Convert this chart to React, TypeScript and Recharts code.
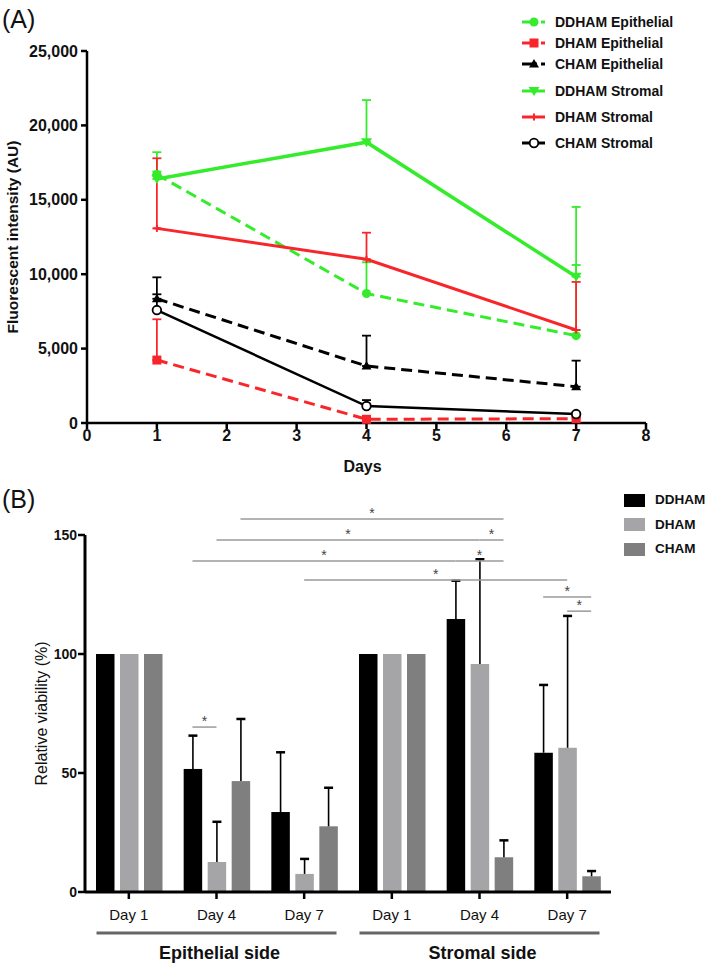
import React from 'react';
import {
  LineChart, Line, XAxis, YAxis, ErrorBar, Legend,
  BarChart, Bar, ReferenceLine, ReferenceDot,
} from 'recharts';

const FONT = "'Liberation Sans', Arial, Helvetica, sans-serif";

// ---------------- Panel A data ----------------
const days = [1, 4, 7];
const ddhamEpithelial = [16700, 8700, 5870];
const ddhamEpithelialErr = [1500, 2100, 4750];
const dhamEpithelial = [4230, 250, 290];
const dhamEpithelialErr = [2740, 150, 100];
const chamEpithelial = [8350, 3830, 2440];
const chamEpithelialErr = [1440, 2040, 1750];
const ddhamStromal = [16400, 18870, 9830];
const ddhamStromalErr = [500, 2830, 4690];
const dhamStromal = [13080, 11000, 6250];
const dhamStromalErr = [4710, 1790, 3230];
const chamStromal = [7590, 1140, 600];
const chamStromalErr = [1060, 400, 100];
const yTicksA = [0, 5000, 10000, 15000, 20000, 25000];
const xTicksA = [0, 1, 2, 3, 4, 5, 6, 7, 8];

const GREEN = '#35ec2c';
const RED = '#f8262b';
const BLACK = '#000000';

type Marker = 'circle' | 'square' | 'triangle' | 'invTriangle' | 'plus' | 'openCircle';
const seriesA: { key: string; name: string; values: number[]; errs: number[]; color: string; dashed: boolean; marker: Marker; width: number }[] = [
  { key: 'ddhamEpi', name: 'DDHAM Epithelial', values: ddhamEpithelial, errs: ddhamEpithelialErr, color: GREEN, dashed: true, marker: 'circle', width: 3 },
  { key: 'dhamEpi', name: 'DHAM Epithelial', values: dhamEpithelial, errs: dhamEpithelialErr, color: RED, dashed: true, marker: 'square', width: 3 },
  { key: 'chamEpi', name: 'CHAM Epithelial', values: chamEpithelial, errs: chamEpithelialErr, color: BLACK, dashed: true, marker: 'triangle', width: 3 },
  { key: 'ddhamStr', name: 'DDHAM Stromal', values: ddhamStromal, errs: ddhamStromalErr, color: GREEN, dashed: false, marker: 'invTriangle', width: 3.5 },
  { key: 'dhamStr', name: 'DHAM Stromal', values: dhamStromal, errs: dhamStromalErr, color: RED, dashed: false, marker: 'plus', width: 3 },
  { key: 'chamStr', name: 'CHAM Stromal', values: chamStromal, errs: chamStromalErr, color: BLACK, dashed: false, marker: 'openCircle', width: 2.5 },
];
const legendRowsA = [22, 43, 64, 91, 117, 143];

const dataA = days.map((d, i) => {
  const row: any = { day: d };
  seriesA.forEach((s) => {
    row[s.key] = s.values[i];
    row[s.key + 'Err'] = [0, s.errs[i]];
  });
  return row;
});

// ---------------- Panel B data ----------------
const dayLabels = ['Day 1', 'Day 4', 'Day 7', 'Day 1', 'Day 4', 'Day 7'];
const sides = ['Epithelial side', 'Stromal side'];
const ddhamViability = [100, 51.7, 33.6, 100, 114.7, 58.5];
const ddhamViabilityErr = [0, 14, 25.1, 0, 16.1, 28.5];
const dhamViability = [100, 12.6, 7.6, 100, 95.8, 60.6];
const dhamViabilityErr = [0, 16.9, 6.3, 0, 44, 55.4];
const chamViability = [100, 46.6, 27.6, 100, 14.6, 6.6];
const chamViabilityErr = [0, 26.1, 16.2, 0, 7.1, 2.2];
const yTicksB = [0, 50, 100, 150];

const seriesB = [
  { key: 'ddham', name: 'DDHAM', values: ddhamViability, errs: ddhamViabilityErr, color: '#000000' },
  { key: 'dham', name: 'DHAM', values: dhamViability, errs: dhamViabilityErr, color: '#a5a5a8' },
  { key: 'cham', name: 'CHAM', values: chamViability, errs: chamViabilityErr, color: '#7f7f7f' },
];

const dataB = dayLabels.map((label, i) => {
  const row: any = { label, pos: i + 0.5 };
  seriesB.forEach((s) => {
    row[s.key] = s.values[i];
    row[s.key + 'Err'] = s.errs[i];
  });
  return row;
});

// significance brackets: [category index, bar index] -> [category index, bar index], at level y
const sigLines = [
  { from: [1, 2], to: [4, 2], y: 156.7 },
  { from: [1, 1], to: [4, 1], y: 147.9 },
  { from: [4, 1], to: [4, 2], y: 147.9 },
  { from: [1, 0], to: [4, 0], y: 139.1 },
  { from: [4, 0], to: [4, 2], y: 139.1 },
  { from: [2, 1], to: [5, 1], y: 131.1 },
  { from: [5, 0], to: [5, 2], y: 124 },
  { from: [5, 1], to: [5, 2], y: 118 },
  { from: [1, 0], to: [1, 1], y: 69.3 },
];

// ---------------- layout constants ----------------
const W = 709;
const HA = 480;
const HB = 486;
const B_LEFT = 85;
const B_RIGHT = 611;
const BAR_SIZE = 18.5;
const BAR_GAP = 5.5;
const BAND = (B_RIGHT - B_LEFT) / dayLabels.length;
const BAR_STEP = (BAR_SIZE + BAR_GAP) / BAND;
const barPos = (c: number, b: number) => c + 0.5 + (b - 1) * BAR_STEP;

// ---------------- markers ----------------
function MarkerShape({ kind, cx, cy, color }: { kind: Marker; cx: number; cy: number; color: string }) {
  switch (kind) {
    case 'circle':
      return <circle cx={cx} cy={cy} r={4.5} fill={color} />;
    case 'square':
      return <rect x={cx - 4.5} y={cy - 4.5} width={9} height={9} fill={color} />;
    case 'triangle':
      return <polygon points={`${cx},${cy - 5} ${cx - 5},${cy + 3.5} ${cx + 5},${cy + 3.5}`} fill={color} />;
    case 'invTriangle':
      return <polygon points={`${cx - 5.5},${cy - 4} ${cx + 5.5},${cy - 4} ${cx},${cy + 5}`} fill={color} />;
    case 'plus':
      return (
        <g>
          <line x1={cx - 3.5} x2={cx + 3.5} y1={cy} y2={cy} stroke={color} strokeWidth={2} />
          <line x1={cx} x2={cx} y1={cy - 3.5} y2={cy + 3.5} stroke={color} strokeWidth={2} />
        </g>
      );
    case 'openCircle':
      return <circle cx={cx} cy={cy} r={4.3} fill="#fff" stroke={color} strokeWidth={1.8} />;
  }
  return null;
}

const makeDot = (kind: Marker, color: string, key: string) => (props: any) => {
  const { cx, cy, index } = props;
  if (cx == null || cy == null) return <g key={`${key}-${index}`} />;
  return (
    <g key={`${key}-${index}`}>
      <MarkerShape kind={kind} cx={cx} cy={cy} color={color} />
    </g>
  );
};

function LegendA() {
  return (
    <div style={{ position: 'relative', width: 194, height: 160, fontFamily: FONT }}>
      {seriesA.map((s, i) => (
        <div
          key={s.key}
          style={{ position: 'absolute', left: 0, top: legendRowsA[i] - 8, height: 16, display: 'flex', alignItems: 'center' }}
        >
          <svg width={26} height={14} style={{ display: 'block' }}>
            {s.dashed ? (
              <g>
                <line x1={0} x2={15} y1={7} y2={7} stroke={s.color} strokeWidth={3} />
                <line x1={19} x2={23} y1={7} y2={7} stroke={s.color} strokeWidth={3} />
              </g>
            ) : (
              <line x1={0} x2={23} y1={7} y2={7} stroke={s.color} strokeWidth={3} />
            )}
            <MarkerShape kind={s.marker} cx={12} cy={7} color={s.color} />
          </svg>
          <span style={{ marginLeft: 7, fontSize: 14, fontWeight: 700, color: '#111', whiteSpace: 'nowrap', lineHeight: '16px' }}>
            {s.name}
          </span>
        </div>
      ))}
    </div>
  );
}

function LegendB() {
  return (
    <div style={{ position: 'relative', width: 90, height: 80, fontFamily: FONT }}>
      {seriesB.map((s, i) => (
        <div key={s.key} style={{ position: 'absolute', left: 0, top: 12 + i * 24.5, height: 16, display: 'flex', alignItems: 'center' }}>
          <div style={{ width: 21, height: 13, background: s.color }} />
          <span style={{ marginLeft: 10, fontSize: 13.5, fontWeight: 700, color: '#111', lineHeight: '16px' }}>{s.name}</span>
        </div>
      ))}
    </div>
  );
}

const makeBarShape = (key: string) => (props: any) => {
  const { x, y, width, height, payload, fill } = props;
  const v = payload[key];
  const e = payload[key + 'Err'];
  const elems: any[] = [<rect key="r" x={x} y={y} width={width} height={height} fill={fill} />];
  if (e && v) {
    const base = y + height;
    const ppu = height / v;
    const top = base - (v + e) * ppu;
    const cx = x + width / 2;
    elems.push(<line key="l" x1={cx} x2={cx} y1={y} y2={top} stroke="#000" strokeWidth={1.6} />);
    elems.push(<line key="c" x1={cx - 4.5} x2={cx + 4.5} y1={top} y2={top} stroke="#000" strokeWidth={2.5} />);
  }
  return <g>{elems}</g>;
};

const tickA = { fill: '#111', fontSize: 16, fontWeight: 700, fontFamily: FONT };
const tickBY = { fill: '#111', fontSize: 14, fontWeight: 700, fontFamily: FONT };
const tickBX = { fill: '#111', fontSize: 15, fontFamily: FONT };

export default function App() {
  return (
    <div style={{ position: 'absolute', left: 0, top: 0, width: W, height: HA + HB, background: '#fff', fontFamily: FONT }}>
      {/* Panel A */}
      <div style={{ position: 'absolute', left: 0, top: 0, width: W, height: HA }}>
        <LineChart width={W} height={HA} data={dataA} margin={{ top: 51, right: 63, bottom: 0, left: 0 }}>
          <XAxis
            dataKey="day"
            type="number"
            domain={[0, 8]}
            ticks={xTicksA}
            interval={0}
            height={57}
            tick={tickA}
            tickSize={6}
            tickMargin={1}
            axisLine={{ stroke: '#000', strokeWidth: 2.5 }}
            tickLine={{ stroke: '#000', strokeWidth: 2.5 }}
            label={(p: any) => {
              const vb = p.viewBox;
              return (
                <text x={vb.x + vb.width / 2 - 4} y={vb.y + 43} textAnchor="middle" dominantBaseline="central" fontSize={16} fontWeight={700} fill="#111" fontFamily={FONT}>
                  Days
                </text>
              );
            }}
          />
          <YAxis
            type="number"
            domain={[0, 25000]}
            ticks={yTicksA}
            width={87}
            tick={tickA}
            tickSize={6}
            tickMargin={3}
            tickFormatter={(v: number) => v.toLocaleString('en-US')}
            axisLine={{ stroke: '#000', strokeWidth: 2.5 }}
            tickLine={{ stroke: '#000', strokeWidth: 2.5 }}
            label={(p: any) => {
              const vb = p.viewBox;
              const cy = vb.y + vb.height / 2;
              return (
                <text x={12} y={cy} transform={`rotate(-90, 12, ${cy})`} textAnchor="middle" dominantBaseline="central" fontSize={15.5} fontWeight={700} fill="#111" fontFamily={FONT}>
                  Fluorescent intensity (AU)
                </text>
              );
            }}
          />
          <Legend
            layout="vertical"
            align="center"
            verticalAlign="middle"
            wrapperStyle={{ left: 522, top: 0, width: 194, height: 160 }}
            content={() => <LegendA />}
          />
          {seriesA.map((s) => (
            <Line
              key={s.key}
              dataKey={s.key}
              name={s.name}
              type="linear"
              stroke={s.color}
              strokeWidth={s.width}
              strokeDasharray={s.dashed ? '11 6' : undefined}
              dot={makeDot(s.marker, s.color, s.key)}
              activeDot={false}
              isAnimationActive={false}
            >
              <ErrorBar dataKey={s.key + 'Err'} width={4.5} stroke={s.color} strokeWidth={1.8} direction="y" />
            </Line>
          ))}
        </LineChart>
        <div style={{ position: 'absolute', left: 2, top: 3, fontSize: 25, fontFamily: FONT, color: '#111', lineHeight: '32px' }}>(A)</div>
      </div>

      {/* Panel B */}
      <div style={{ position: 'absolute', left: 0, top: HA, width: W, height: HB }}>
        <BarChart
          width={W}
          height={HB}
          data={dataB}
          margin={{ top: 55, right: W - B_RIGHT, bottom: 0, left: 0 }}
          barSize={BAR_SIZE}
          barGap={BAR_GAP}
        >
          <XAxis
            dataKey="label"
            height={36}
            interval={0}
            tick={tickBX}
            tickSize={7}
            tickMargin={10}
            axisLine={{ stroke: '#000', strokeWidth: 3 }}
            tickLine={{ stroke: '#000', strokeWidth: 2.5 }}
          />
          <XAxis
            xAxisId="side"
            dataKey="pos"
            type="number"
            domain={[0, dayLabels.length]}
            allowDataOverflow
            ticks={[1.5, 4.5]}
            interval={0}
            height={38}
            axisLine={false}
            tickLine={false}
            tickSize={0}
            tickMargin={0}
            tick={(p: any) => {
              const idx = Math.floor(p.payload.value / 3);
              return (
                <g>
                  <line x1={p.x - 120} x2={p.x + 120} y1={p.y + 5} y2={p.y + 5} stroke="#666" strokeWidth={3} />
                  <text x={p.x + 3} y={p.y + 25} textAnchor="middle" dominantBaseline="central" fontSize={18} fontWeight={700} fill="#111" fontFamily={FONT}>
                    {sides[idx]}
                  </text>
                </g>
              );
            }}
          />
          <XAxis xAxisId="num" dataKey="pos" type="number" domain={[0, dayLabels.length]} allowDataOverflow hide height={0} />
          <YAxis
            type="number"
            domain={[0, 150]}
            ticks={yTicksB}
            width={B_LEFT}
            tick={tickBY}
            tickSize={7}
            tickMargin={1}
            axisLine={{ stroke: '#000', strokeWidth: 3 }}
            tickLine={{ stroke: '#000', strokeWidth: 2.5 }}
            label={(p: any) => {
              const vb = p.viewBox;
              const cy = vb.y + vb.height / 2;
              return (
                <text x={41} y={cy} transform={`rotate(-90, 41, ${cy})`} textAnchor="middle" dominantBaseline="central" fontSize={16} fill="#111" fontFamily={FONT}>
                  Relative viability (%)
                </text>
              );
            }}
          />
          <Legend
            layout="vertical"
            align="center"
            verticalAlign="middle"
            wrapperStyle={{ left: 624, top: 0, width: 90, height: 80 }}
            content={() => <LegendB />}
          />
          {seriesB.map((s) => (
            <Bar key={s.key} dataKey={s.key} name={s.name} fill={s.color} shape={makeBarShape(s.key)} isAnimationActive={false} />
          ))}
          {sigLines.map((l, i) => (
            <ReferenceLine
              key={`sl-${i}`}
              xAxisId="num"
              segment={[
                { x: barPos(l.from[0], l.from[1]), y: l.y },
                { x: barPos(l.to[0], l.to[1]), y: l.y },
              ]}
              stroke="#9a9a9a"
              strokeWidth={1.5}
              ifOverflow="visible"
            />
          ))}
          {sigLines.map((l, i) => (
            <ReferenceDot
              key={`sd-${i}`}
              xAxisId="num"
              x={(barPos(l.from[0], l.from[1]) + barPos(l.to[0], l.to[1])) / 2}
              y={l.y}
              r={0}
              ifOverflow="visible"
              shape={(p: any) => (
                <text x={p.cx} y={p.cy - 1} textAnchor="middle" fontSize={14} fill="#444" fontFamily={FONT}>
                  *
                </text>
              )}
            />
          ))}
        </BarChart>
        <div style={{ position: 'absolute', left: 2, top: 3, fontSize: 25, fontFamily: FONT, color: '#111', lineHeight: '32px' }}>(B)</div>
      </div>
    </div>
  );
}
